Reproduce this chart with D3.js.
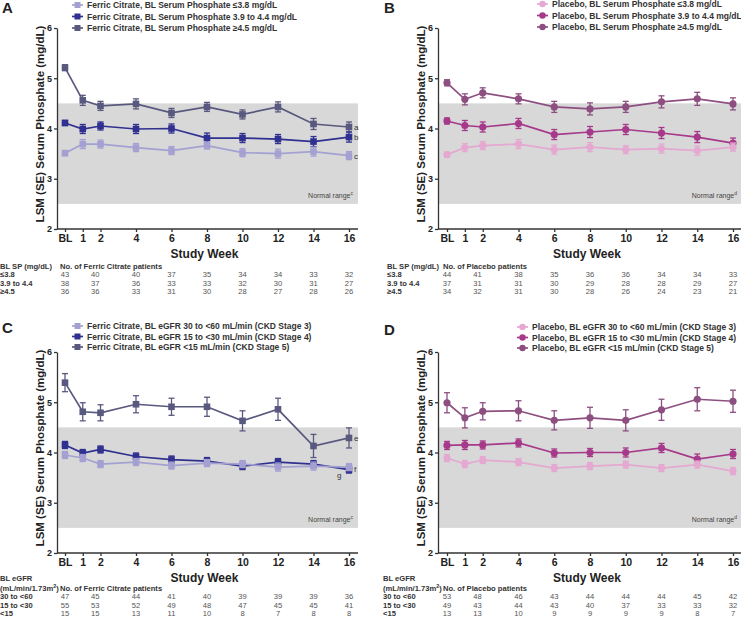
<!DOCTYPE html>
<html>
<head>
<meta charset="utf-8">
<script src="https://cdn.jsdelivr.net/npm/d3@7"></script>
<style>
	body { margin: 0; background: #fff; }
	svg { display: block; font-family: "Liberation Sans", Arial, sans-serif; }
</style>
</head>
<body>
<main></main>
<script>
// ---- data ----
const weeks = [0, 1, 2, 4, 6, 8, 10, 12, 14, 16];
const weekLabels = ["BL", "1", "2", "4", "6", "8", "10", "12", "14", "16"];
const yTicks = [2, 3, 4, 5, 6];
const tableWeeks = [0, 1.7, 4, 6, 8, 10, 12, 14, 16];
const normalRange = [2.5, 4.5];

// A: ferric citrate by baseline serum phosphate
const aLegend = ["Ferric Citrate, BL Serum Phosphate ≤3.8 mg/dL", "Ferric Citrate, BL Serum Phosphate 3.9 to 4.4 mg/dL", "Ferric Citrate, BL Serum Phosphate ≥4.5 mg/dL"];
const aLow = [3.51, 3.69, 3.69, 3.62, 3.56, 3.66, 3.52, 3.50, 3.54, 3.46];
const aLowSE = [0.05, 0.09, 0.08, 0.08, 0.08, 0.07, 0.08, 0.09, 0.09, 0.08];
const aMid = [4.11, 3.99, 4.05, 3.99, 4.00, 3.81, 3.81, 3.79, 3.74, 3.83];
const aMidSE = [0.05, 0.09, 0.08, 0.09, 0.09, 0.10, 0.09, 0.09, 0.10, 0.10];
const aHigh = [5.21, 4.56, 4.45, 4.49, 4.31, 4.43, 4.28, 4.43, 4.09, 4.03];
const aHighSE = [0.06, 0.10, 0.09, 0.10, 0.09, 0.09, 0.09, 0.10, 0.11, 0.10];
const aNotes = ["c", "b", "a"];
const aRows = ["≤3.8", "3.9 to 4.4", "≥4.5"];
const aCounts = [
	[43, 40, 40, 37, 35, 34, 34, 33, 32],
	[38, 37, 36, 33, 33, 32, 30, 31, 27],
	[36, 36, 33, 31, 30, 28, 27, 28, 26]
];

// B: placebo by baseline serum phosphate
const bLegend = ["Placebo, BL Serum Phosphate ≤3.8 mg/dL", "Placebo, BL Serum Phosphate 3.9 to 4.4 mg/dL", "Placebo, BL Serum Phosphate ≥4.5 mg/dL"];
const bLow = [3.48, 3.62, 3.66, 3.69, 3.58, 3.63, 3.58, 3.60, 3.56, 3.63];
const bLowSE = [0.05, 0.08, 0.08, 0.09, 0.09, 0.09, 0.08, 0.09, 0.09, 0.08];
const bMid = [4.15, 4.06, 4.03, 4.10, 3.88, 3.93, 3.98, 3.91, 3.83, 3.71];
const bMidSE = [0.06, 0.10, 0.10, 0.10, 0.10, 0.11, 0.10, 0.11, 0.11, 0.10];
const bHigh = [4.91, 4.58, 4.71, 4.59, 4.43, 4.39, 4.43, 4.53, 4.59, 4.49];
const bHighSE = [0.06, 0.11, 0.10, 0.10, 0.11, 0.12, 0.11, 0.12, 0.13, 0.12];
const bNotes = ["", "", ""];
const bRows = ["≤3.8", "3.9 to 4.4", "≥4.5"];
const bCounts = [
	[44, 41, 38, 35, 36, 36, 34, 34, 33],
	[37, 31, 31, 30, 29, 28, 28, 29, 27],
	[34, 32, 31, 30, 28, 26, 24, 23, 21]
];

// C: ferric citrate by baseline eGFR
const cLegend = ["Ferric Citrate, BL eGFR 30 to <60 mL/min (CKD Stage 3)", "Ferric Citrate, BL eGFR 15 to <30 mL/min (CKD Stage 4)", "Ferric Citrate, BL eGFR <15 mL/min (CKD Stage 5)"];
const cLow = [3.95, 3.89, 3.77, 3.81, 3.74, 3.79, 3.77, 3.71, 3.73, 3.71];
const cLowSE = [0.07, 0.07, 0.07, 0.07, 0.07, 0.07, 0.07, 0.08, 0.08, 0.07];
const cMid = [4.15, 3.99, 4.06, 3.92, 3.86, 3.83, 3.73, 3.81, 3.77, 3.66];
const cMidSE = [0.07, 0.07, 0.07, 0.07, 0.07, 0.07, 0.07, 0.07, 0.07, 0.07];
const cHigh = [5.39, 4.81, 4.79, 4.96, 4.91, 4.91, 4.63, 4.86, 4.13, 4.29];
const cHighSE = [0.18, 0.18, 0.16, 0.17, 0.17, 0.19, 0.20, 0.22, 0.23, 0.20];
const cNotes = ["g", "f", "e"];
const cRows = ["30 to <60", "15 to <30", "<15"];
const cCounts = [
	[47, 45, 44, 41, 40, 39, 39, 39, 36],
	[55, 53, 52, 49, 48, 47, 45, 45, 41],
	[15, 15, 13, 11, 10, 8, 7, 8, 8]
];

// D: placebo by baseline eGFR
const dLegend = ["Placebo, BL eGFR 30 to <60 mL/min (CKD Stage 3)", "Placebo, BL eGFR 15 to <30 mL/min (CKD Stage 4)", "Placebo, BL eGFR <15 mL/min (CKD Stage 5)"];
const dLow = [3.89, 3.77, 3.85, 3.81, 3.69, 3.73, 3.76, 3.69, 3.76, 3.63];
const dLowSE = [0.07, 0.07, 0.07, 0.07, 0.07, 0.07, 0.07, 0.07, 0.07, 0.07];
const dMid = [4.14, 4.15, 4.15, 4.19, 3.99, 4.00, 4.00, 4.09, 3.87, 3.97];
const dMidSE = [0.08, 0.09, 0.08, 0.08, 0.08, 0.08, 0.09, 0.09, 0.10, 0.09];
const dHigh = [4.99, 4.69, 4.82, 4.83, 4.64, 4.69, 4.64, 4.85, 5.06, 5.02];
const dHighSE = [0.20, 0.20, 0.17, 0.20, 0.19, 0.21, 0.21, 0.21, 0.23, 0.22];
const dNotes = ["", "", ""];
const dRows = ["30 to <60", "15 to <30", "<15"];
const dCounts = [
	[53, 48, 46, 43, 44, 44, 44, 45, 42],
	[49, 43, 44, 43, 40, 37, 33, 33, 32],
	[13, 13, 10, 9, 9, 9, 9, 8, 7]
];

const ferricColors = ["#a4a1d2", "#2f3090", "#59597f"];
const placeboColors = ["#e4a8d1", "#a6398a", "#8d4f80"];

// ---- layout ----
const width = 741;
const height = 618;

const svg = d3.select("main")
	.append("svg")
	.attr("width", width)
	.attr("height", height);

function drawPanel(p) {
	const xScale = d3.scaleLinear()
		.domain([0, 16])
		.range([p.x0, p.x16]);
	const yScale = d3.scaleLinear()
		.domain([2, 6])
		.range([p.yBottom, p.yTop]);

	const g = svg.append("g");

	// normal range band
	g.append("rect")
		.attr("x", p.axisX)
		.attr("y", yScale(normalRange[1]))
		.attr("width", p.axisEnd - p.axisX)
		.attr("height", yScale(normalRange[0]) - yScale(normalRange[1]))
		.attr("fill", "#d8d8d8");

	const nr = g.append("text")
		.attr("x", p.axisEnd - 5)
		.attr("y", yScale(normalRange[0]) - 6)
		.attr("text-anchor", "end")
		.style("font-size", "7px")
		.attr("fill", "#444");
	nr.append("tspan").text("Normal range");
	nr.append("tspan").attr("dy", -3).style("font-size", "5px").text(p.rangeNote);

	// axes
	const yAxisGenerator = d3.axisLeft(yScale)
		.tickValues(yTicks)
		.tickFormat(d3.format("d"))
		.tickSize(3)
		.tickSizeOuter(0)
		.tickPadding(2);
	const yAxis = g.append("g")
		.attr("transform", `translate(${p.axisX},0)`)
		.call(yAxisGenerator);
	yAxis.selectAll("text")
		.style("font-size", "9px")
		.style("font-weight", "bold")
		.attr("fill", "#222");
	yAxis.selectAll("line, path").attr("stroke", "#333").attr("stroke-width", 1.3);

	const xAxisGenerator = d3.axisBottom(xScale)
		.tickValues(weeks)
		.tickFormat((d, i) => weekLabels[i])
		.tickSize(3)
		.tickPadding(3);
	const xAxis = g.append("g")
		.attr("transform", `translate(0,${p.yBottom})`)
		.call(xAxisGenerator);
	xAxis.select(".domain").remove();
	xAxis.append("line")
		.attr("x1", p.axisX)
		.attr("x2", p.axisEnd)
		.attr("stroke", "#333")
		.attr("stroke-width", 1.3);
	xAxis.selectAll("line").attr("stroke", "#333").attr("stroke-width", 1.3);
	xAxis.selectAll("text")
		.style("font-size", "10.5px")
		.style("font-weight", "bold")
		.attr("fill", "#222");

	g.append("text")
		.attr("x", (p.axisX + p.axisEnd) / 2 - 3)
		.attr("y", p.yBottom + 29)
		.attr("text-anchor", "middle")
		.style("font-size", "12px")
		.style("font-weight", "bold")
		.attr("fill", "#222")
		.text("Study Week");

	g.append("text")
		.attr("transform", `translate(${p.axisX - 13},${p.yTop + 96}) rotate(-90)`)
		.attr("text-anchor", "middle")
		.style("font-size", "11.5px")
		.style("font-weight", "bold")
		.attr("fill", "#222")
		.text("LSM (SE) Serum Phosphate (mg/dL)");

	// panel letter
	g.append("text")
		.attr("x", p.letterX)
		.attr("y", p.letterY)
		.style("font-size", "15px")
		.style("font-weight", "bold")
		.attr("fill", "#222")
		.text(p.letter);

	// series, drawn from the top group down
	const line = d3.line()
		.x((d, i) => xScale(weeks[i]))
		.y(d => yScale(d));

	for (let s = p.series.length - 1; s >= 0; s--) {
		const values = p.series[s];
		const se = p.errors[s];
		const color = p.colors[s];
		const sg = g.append("g");
		sg.append("path")
			.datum(values)
			.attr("d", line)
			.attr("fill", "none")
			.attr("stroke", color)
			.attr("stroke-width", 1.7);
		const bars = sg.selectAll(".err")
			.data(values)
			.enter()
			.append("g");
		bars.append("line")
			.attr("x1", (d, i) => xScale(weeks[i]))
			.attr("x2", (d, i) => xScale(weeks[i]))
			.attr("y1", (d, i) => yScale(d - se[i]))
			.attr("y2", (d, i) => yScale(d + se[i]));
		bars.append("line")
			.attr("x1", (d, i) => xScale(weeks[i]) - 3)
			.attr("x2", (d, i) => xScale(weeks[i]) + 3)
			.attr("y1", (d, i) => yScale(d - se[i]))
			.attr("y2", (d, i) => yScale(d - se[i]));
		bars.append("line")
			.attr("x1", (d, i) => xScale(weeks[i]) - 3)
			.attr("x2", (d, i) => xScale(weeks[i]) + 3)
			.attr("y1", (d, i) => yScale(d + se[i]))
			.attr("y2", (d, i) => yScale(d + se[i]));
		bars.selectAll("line")
			.attr("stroke", color)
			.attr("stroke-width", 1.3);
		if (p.shape === "square") {
			sg.selectAll("rect.pt")
				.data(values)
				.enter()
				.append("rect")
				.attr("x", (d, i) => xScale(weeks[i]) - 3.3)
				.attr("y", d => yScale(d) - 3.3)
				.attr("width", 6.6)
				.attr("height", 6.6)
				.attr("fill", color);
		} else {
			sg.selectAll("circle.pt")
				.data(values)
				.enter()
				.append("circle")
				.attr("cx", (d, i) => xScale(weeks[i]))
				.attr("cy", d => yScale(d))
				.attr("r", 3.6)
				.attr("fill", color);
		}
		if (p.notes[s]) {
			const last = values.length - 1;
			g.append("text")
				.attr("x", xScale(weeks[last]) + p.noteOffsets[s][0])
				.attr("y", yScale(values[last]) + p.noteOffsets[s][1])
				.style("font-size", "8px")
				.attr("fill", "#333")
				.text(p.notes[s]);
		}
	}

	// legend
	p.legend.forEach((label, i) => {
		const ly = p.legendY[i];
		g.append("line")
			.attr("x1", p.legendX)
			.attr("x2", p.legendX + 11)
			.attr("y1", ly)
			.attr("y2", ly)
			.attr("stroke", p.colors[i])
			.attr("stroke-width", 1.7);
		if (p.shape === "square") {
			g.append("rect")
				.attr("x", p.legendX + 2.5)
				.attr("y", ly - 3)
				.attr("width", 6)
				.attr("height", 6)
				.attr("fill", p.colors[i]);
		} else {
			g.append("circle")
				.attr("cx", p.legendX + 5.5)
				.attr("cy", ly)
				.attr("r", 3.2)
				.attr("fill", p.colors[i]);
		}
		g.append("text")
			.attr("x", p.legendX + 15)
			.attr("y", ly + 3)
			.style("font-size", "8.5px")
			.style("font-weight", "bold")
			.attr("fill", "#333")
			.text(label);
	});

	// patient count table
	const t = g.append("g").style("font-size", "7.6px");
	if (p.tableTitle) {
		t.append("text")
			.attr("x", p.tableX)
			.attr("y", p.tableY - 10)
			.style("font-weight", "bold")
			.attr("fill", "#333")
			.text(p.tableTitle);
	}
	const hd = t.append("text")
		.attr("x", p.tableX)
		.attr("y", p.tableY)
		.style("font-weight", "bold")
		.attr("fill", "#333");
	hd.append("tspan").text(p.tableUnit);
	if (p.tableSup) {
		hd.append("tspan").attr("dy", -3).style("font-size", "5.5px").text(p.tableSup);
		hd.append("tspan").attr("dy", 3).text(")");
	}
	t.append("text")
		.attr("x", p.tableHeadX)
		.attr("y", p.tableY)
		.style("font-weight", "bold")
		.attr("fill", "#333")
		.text(p.tableHead);
	p.rows.forEach((label, r) => {
		const ry = p.tableY + 8.5 * (r + 1);
		t.append("text")
			.attr("x", p.tableX)
			.attr("y", ry)
			.style("font-weight", "bold")
			.attr("fill", "#333")
			.text(label);
		t.selectAll(null)
			.data(p.counts[r])
			.enter()
			.append("text")
			.attr("x", (d, i) => xScale(tableWeeks[i]))
			.attr("y", ry)
			.attr("text-anchor", "middle")
			.attr("fill", "#555")
			.text(d => d);
	});
}

const leftGeom = { axisX: 57, axisEnd: 358, x0: 65, x16: 349, letterX: 2, legendX: 72, tableX: 0, tableHeadX: 60 };
const rightGeom = { axisX: 438, axisEnd: 742, x0: 447, x16: 733, letterX: 384, tableHeadX: 443 };

drawPanel(Object.assign({}, leftGeom, {
	letter: "A", letterY: 13, yTop: 28, yBottom: 229,
	legendY: [5, 16.5, 28], legend: aLegend,
	series: [aLow, aMid, aHigh], errors: [aLowSE, aMidSE, aHighSE],
	colors: ferricColors, shape: "square", rangeNote: "c",
	notes: aNotes, noteOffsets: [[5, 3], [5, 3], [5, 3]],
	tableY: 268.5, tableUnit: "BL SP (mg/dL)", tableHead: "No. of Ferric Citrate patients",
	rows: aRows, counts: aCounts
}));

drawPanel(Object.assign({}, rightGeom, {
	letter: "B", letterY: 13, yTop: 28, yBottom: 229,
	legendX: 537, legendY: [4, 15.5, 27], legend: bLegend,
	series: [bLow, bMid, bHigh], errors: [bLowSE, bMidSE, bHighSE],
	colors: placeboColors, shape: "circle", rangeNote: "d",
	notes: bNotes, noteOffsets: [[0, 0], [0, 0], [0, 0]],
	tableX: 387, tableY: 268.5, tableUnit: "BL SP (mg/dL)", tableHead: "No. of Placebo patients",
	rows: bRows, counts: bCounts
}));

drawPanel(Object.assign({}, leftGeom, {
	letter: "C", letterY: 333, yTop: 352, yBottom: 553,
	legendY: [326, 336.5, 347], legend: cLegend,
	series: [cLow, cMid, cHigh], errors: [cLowSE, cMidSE, cHighSE],
	colors: ferricColors, shape: "square", rangeNote: "c",
	notes: cNotes, noteOffsets: [[-12, 11], [5, 2], [5, 3]],
	tableY: 590.5, tableTitle: "BL eGFR", tableUnit: "(mL/min/1.73m", tableSup: "2",
	tableHead: "No. of Ferric Citrate patients",
	rows: cRows, counts: cCounts
}));

drawPanel(Object.assign({}, rightGeom, {
	letter: "D", letterY: 335, yTop: 352, yBottom: 553,
	legendX: 517, legendY: [327, 337.5, 348], legend: dLegend,
	series: [dLow, dMid, dHigh], errors: [dLowSE, dMidSE, dHighSE],
	colors: placeboColors, shape: "circle", rangeNote: "d",
	notes: dNotes, noteOffsets: [[0, 0], [0, 0], [0, 0]],
	tableX: 383, tableY: 590.5, tableTitle: "BL eGFR", tableUnit: "(mL/min/1.73m", tableSup: "2",
	tableHead: "No. of Placebo patients",
	rows: dRows, counts: dCounts
}));
</script>
</body>
</html>
